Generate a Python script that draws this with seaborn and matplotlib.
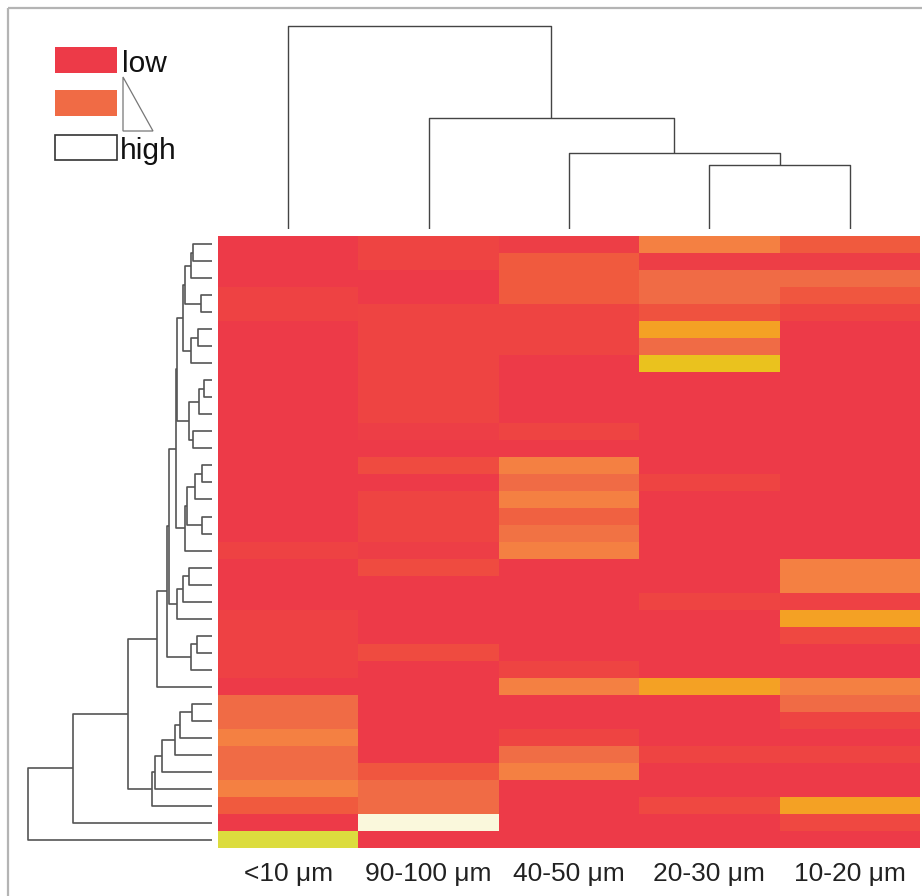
import numpy as np
import pandas as pd
import matplotlib
matplotlib.use("Agg")
import matplotlib.pyplot as plt
from matplotlib.colors import LinearSegmentedColormap
from matplotlib.patches import Rectangle, Polygon
import seaborn as sns

sns.set_theme(style="white")
plt.rcParams["font.family"] = ["Liberation Sans", "DejaVu Sans"]

# ---------------- data ----------------
columns = ["<10 μm", "90-100 μm", "40-50 μm", "20-30 μm", "10-20 μm"]

col_lt10 = [0, 0, 0, 0.05, 0.05, 0, 0, 0, 0, 0, 0, 0, 0, 0, 0, 0, 0, 0,
            0.05, 0, 0, 0, 0.04, 0.04, 0.04, 0.04, 0, 0.27, 0.27, 0.36,
            0.27, 0.27, 0.36, 0.18, 0, 0.75]
col_90_100 = [0.06, 0.06, 0, 0, 0.06, 0.06, 0.06, 0.06, 0.06, 0.06, 0.06,
              0.02, 0, 0.1, 0, 0.06, 0.06, 0.06, 0.02, 0.1, 0, 0, 0, 0,
              0.1, 0, 0, 0, 0, 0, 0, 0.16, 0.27, 0.27, 1.0, 0]
col_40_50 = [0.02, 0.18, 0.18, 0.18, 0.06, 0.06, 0.06, 0, 0, 0, 0, 0.06, 0,
             0.36, 0.27, 0.36, 0.22, 0.30, 0.36, 0, 0, 0, 0, 0, 0, 0.06,
             0.36, 0, 0, 0.06, 0.28, 0.36, 0, 0, 0, 0]
col_20_30 = [0.36, 0.02, 0.27, 0.27, 0.14, 0.5, 0.27, 0.62, 0, 0, 0, 0, 0, 0,
             0.06, 0, 0, 0, 0, 0, 0, 0.06, 0, 0, 0, 0, 0.5, 0, 0, 0, 0.06,
             0, 0, 0.08, 0, 0]
col_10_20 = [0.18, 0.02, 0.27, 0.16, 0.06, 0, 0, 0, 0, 0, 0, 0, 0, 0, 0, 0,
             0, 0, 0, 0.36, 0.36, 0.04, 0.5, 0.08, 0, 0, 0.36, 0.27, 0.06, 0,
             0.06, 0, 0, 0.5, 0.08, 0]

# row dendrogram merges: (child_a, child_b, height); leaves 0..35, internal 36..
row_merges = [
    (0, 1, 19), (36, 2, 21), (3, 4, 11), (37, 38, 27.5), (5, 6, 14),
    (40, 7, 21), (39, 41, 29), (8, 9, 8), (43, 10, 13), (11, 12, 19),
    (44, 45, 23), (42, 46, 35.3), (13, 14, 10), (48, 15, 17), (16, 17, 10),
    (49, 50, 25), (51, 18, 27), (47, 52, 36.5), (19, 20, 22.7), (54, 21, 28.7),
    (55, 22, 35.3), (53, 56, 42.7), (23, 24, 15.3), (58, 25, 21.3),
    (57, 59, 45.3), (60, 26, 55.3), (27, 28, 20.3), (62, 29, 32), (63, 30, 37),
    (64, 31, 50.3), (65, 32, 57), (66, 33, 60.3), (61, 67, 83.7),
    (68, 34, 138.7), (69, 35, 184.3),
]
# column dendrogram merges
col_merges = [(3, 4, 64), (2, 5, 76), (1, 6, 111), (0, 7, 203)]

# ---------------- helpers ----------------
def dendro_segments(merges, n_leaves):
    pos = {i: i + 0.5 for i in range(n_leaves)}
    hgt = {i: 0.0 for i in range(n_leaves)}
    segs = []
    for k, (a, b, h) in enumerate(merges):
        node = n_leaves + k
        segs.append(((pos[a], hgt[a]), (pos[a], h), (pos[b], h), (pos[b], hgt[b])))
        pos[node] = (pos[a] + pos[b]) / 2
        hgt[node] = h
    return segs

W, H = 922, 896
fig = plt.figure(figsize=(W / 100, H / 100), dpi=100)

def fax(x0, y0, x1, y1):
    return fig.add_axes([x0 / W, 1 - y1 / H, (x1 - x0) / W, (y1 - y0) / H])

cmap = LinearSegmentedColormap.from_list("heat", [
    (0.00, "#ED3A48"), (0.05, "#EE4343"), (0.10, "#EF4B40"),
    (0.18, "#F05A3E"), (0.27, "#F06B45"), (0.36, "#F48042"),
    (0.50, "#F4A024"), (0.62, "#EAC21E"), (0.75, "#DCDC3C"),
    (1.00, "#FAF8DC")])

df = pd.DataFrame({c: v for c, v in zip(columns, [col_lt10, col_90_100, col_40_50, col_20_30, col_10_20])})

ax_h = fax(218, 236, 920, 848)
sns.heatmap(df, ax=ax_h, cmap=cmap, vmin=0, vmax=1, cbar=False,
            xticklabels=columns, yticklabels=False)
ax_h.tick_params(axis="x", length=0, pad=10, labelsize=19, rotation=0,
                 labelcolor="#222222")
ax_h.set_xlabel("")
ax_h.set_ylabel("")

# row dendrogram
ax_r = fax(0, 236, 212, 848)
for p in dendro_segments(row_merges, 36):
    ys = [q[0] for q in p]
    xs = [q[1] for q in p]
    ax_r.plot(xs, ys, color="#555555", lw=1.2, solid_capstyle="butt")
ax_r.set_xlim(212, 0)
ax_r.set_ylim(36, 0)
ax_r.axis("off")

# column dendrogram
ax_c = fax(218, 0, 920, 229)
for p in dendro_segments(col_merges, 5):
    xs = [q[0] for q in p]
    ys = [q[1] for q in p]
    ax_c.plot(xs, ys, color="#444444", lw=1.0, solid_capstyle="butt")
ax_c.set_xlim(0, 5)
ax_c.set_ylim(0, 229)
ax_c.axis("off")

# legend + frame (overlay axes in pixel coordinates)
ax_o = fig.add_axes([0, 0, 1, 1], zorder=-1)
ax_o.set_xlim(0, W)
ax_o.set_ylim(H, 0)
ax_o.axis("off")
ax_o.add_patch(Rectangle((8, 8), W + 20, H + 20, fill=False, ec="#B4B4B4", lw=1.6))
ax_o2 = fig.add_axes([0, 0, 1, 1], zorder=5)
ax_o2.set_xlim(0, W)
ax_o2.set_ylim(H, 0)
ax_o2.axis("off")
ax_o2.add_patch(Rectangle((55, 47), 62, 26, fc="#ED3A48", ec="none"))
ax_o2.add_patch(Rectangle((55, 90), 62, 26, fc="#F06B45", ec="none"))
ax_o2.add_patch(Rectangle((55, 135), 62, 25, fc="white", ec="#333333", lw=1.2))
ax_o2.add_patch(Polygon([(123, 77), (123, 131), (153, 131)], closed=True,
                        fill=False, ec="#777777", lw=0.9))
ax_o2.text(122, 64, "low", fontsize=21.5, va="center", ha="left", color="#111111")
ax_o2.text(120, 151, "high", fontsize=21.5, va="center", ha="left", color="#111111")

fig.savefig("out.png", dpi=100)
